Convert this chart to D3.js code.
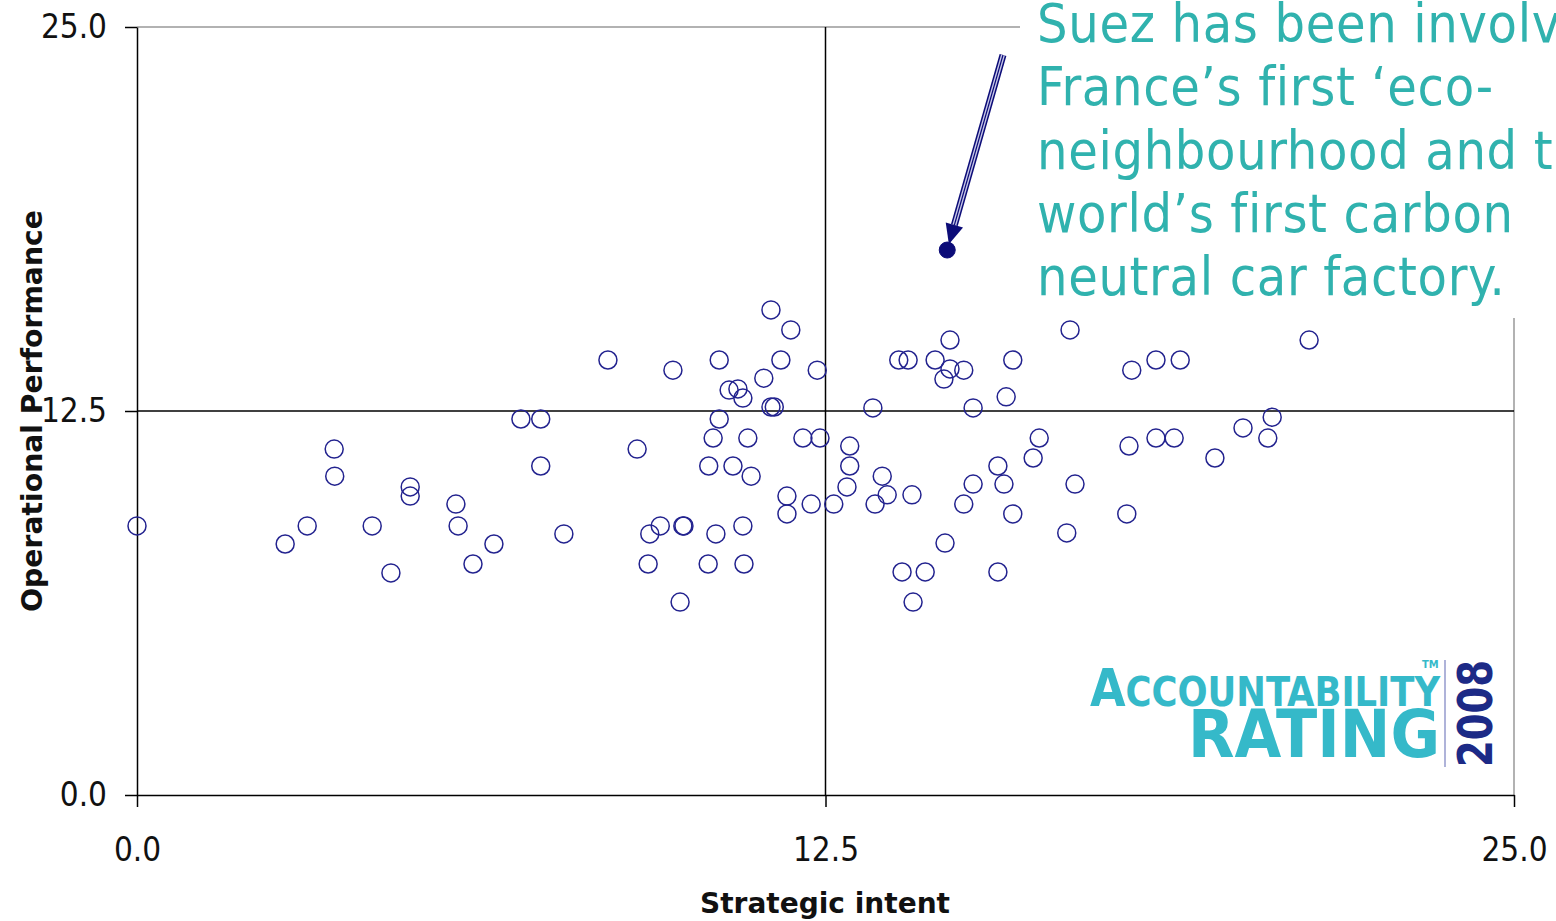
<!DOCTYPE html>
<meta charset="utf-8">
<script src="https://d3js.org/d3.v7.min.js"></script>
<style>
  body { margin: 0; background: #fff; }
  text { font-family: "DejaVu Sans Condensed", "DejaVu Sans", sans-serif; }
</style>
<div id="chart"></div>
<script>

// data
var strategic = [0.00, 2.69, 3.09, 3.58, 3.59, 4.27, 4.61, 4.96, 4.96, 5.79,
  5.83, 6.10, 6.48, 6.97, 7.33, 7.33, 7.75, 8.55, 9.08, 9.28,
  9.31, 9.50, 9.73, 9.86, 9.91, 9.93, 10.37, 10.38, 10.46, 10.51,
  10.57, 10.57, 10.75, 10.82, 10.91, 11.00, 11.00, 11.02, 11.09, 11.15,
  11.38, 11.51, 11.51, 11.57, 11.69, 11.80, 11.80, 11.87, 12.09, 12.24,
  12.35, 12.40, 12.65, 12.89, 12.94, 12.94, 13.36, 13.40, 13.53, 13.62,
  13.83, 13.89, 14.00, 14.07, 14.09, 14.31, 14.49, 14.65, 14.67, 14.76,
  14.76, 15.01, 15.01, 15.18, 15.18, 15.63, 15.63, 15.74, 15.78, 15.90,
  15.90, 16.27, 16.38, 16.88, 16.94, 17.03, 17.97, 18.01, 18.06, 18.50,
  18.50, 18.83, 18.94, 19.57, 20.08, 20.53, 20.61, 21.28];
var operational = [8.76, 8.17, 8.76, 11.26, 10.38, 8.76, 7.23, 10.03, 9.73, 9.47,
  8.76, 7.52, 8.17, 12.24, 12.24, 10.71, 8.50, 14.16, 11.26, 7.52,
  8.50, 8.76, 13.83, 6.28, 8.76, 8.76, 7.52, 10.71, 11.62, 8.50,
  14.16, 12.24, 13.18, 10.71, 13.22, 12.92, 8.76, 7.52, 11.62, 10.38,
  13.57, 15.79, 12.63, 12.63, 14.16, 9.73, 9.15, 15.14, 11.62, 9.47,
  13.83, 11.62, 9.47, 10.03, 11.36, 10.71, 12.60, 9.47, 10.38, 9.77,
  14.16, 7.26, 14.16, 9.77, 6.28, 7.26, 14.16, 13.54, 8.20, 14.81,
  13.87, 13.83, 9.47, 12.60, 10.12, 10.71, 7.26, 10.12, 12.96, 14.16,
  9.15, 10.97, 11.62, 8.53, 15.14, 10.12, 9.15, 11.36, 13.83, 14.16,
  11.62, 11.62, 14.16, 10.97, 11.95, 11.62, 12.30, 14.81];
var suez = {strategic: 14.71, operational: 17.74};
var tickValues = [0, 12.5, 25];
var noteLines = ["Suez has been involved in", "France\u2019s first \u2018eco-",
  "neighbourhood and the", "world\u2019s first carbon", "neutral car factory."];

var points = strategic.map(function(d, i) { return {x: d, y: operational[i]}; });

var W = 1556, H = 921;
var margin = {top: 27, right: 42, bottom: 126, left: 137},
    width = W - margin.left - margin.right,
    height = H - margin.top - margin.bottom;

var svg = d3.select("#chart").append("svg")
    .attr("width", W).attr("height", H);
var g = svg.append("g")
    .attr("transform", "translate(" + margin.left + "," + margin.top + ")");

var x = d3.scaleLinear().domain([0, 25]).range([0, width]);
var y = d3.scaleLinear().domain([0, 25]).range([height, 0]);

// gray plot frame (top, right)
g.append("path")
  .attr("d", "M0,0H" + width + "V" + height)
  .attr("fill", "none").attr("stroke", "#999").attr("stroke-width", 1.5);

// quadrant lines
g.append("line")
  .attr("x1", x(12.5)).attr("x2", x(12.5)).attr("y1", 0).attr("y2", height)
  .attr("stroke", "#000").attr("stroke-width", 1.5);
g.append("line")
  .attr("x1", 0).attr("x2", width).attr("y1", y(12.5)).attr("y2", y(12.5))
  .attr("stroke", "#000").attr("stroke-width", 1.5);

// axes
var yAxis = g.append("g")
  .call(d3.axisLeft(y).tickValues(tickValues).tickFormat(d3.format(".1f"))
    .tickSize(12).tickSizeOuter(0).tickPadding(18));
var xAxis = g.append("g")
  .attr("transform", "translate(0," + height + ")")
  .call(d3.axisBottom(x).tickValues(tickValues).tickFormat(d3.format(".1f"))
    .tickSize(12).tickSizeOuter(0).tickPadding(31));
[yAxis, xAxis].forEach(function(a) {
  a.select(".domain").attr("stroke", "#000").attr("stroke-width", 1.5);
  a.selectAll(".tick line").attr("stroke", "#000").attr("stroke-width", 1.5);
  a.selectAll("text").attr("font-size", 33).attr("fill", "#111")
    .style("font-family", "DejaVu Sans Condensed");
});

// axis titles
svg.append("text")
  .attr("x", 825).attr("y", 913)
  .attr("text-anchor", "middle")
  .attr("font-size", 29).attr("font-weight", "bold").attr("fill", "#111")
  .attr("textLength", 250).attr("lengthAdjust", "spacingAndGlyphs")
  .text("Strategic intent");
svg.append("text")
  .attr("transform", "translate(42,411) rotate(-90)")
  .attr("text-anchor", "middle")
  .attr("font-size", 29).attr("font-weight", "bold").attr("fill", "#111")
  .attr("textLength", 402).attr("lengthAdjust", "spacingAndGlyphs")
  .text("Operational Performance");

// points
g.selectAll(".pt")
  .data(points)
  .enter().append("circle")
    .attr("class", "pt")
    .attr("cx", function(d) { return x(d.x); })
    .attr("cy", function(d) { return y(d.y); })
    .attr("r", 9)
    .attr("fill", "none")
    .attr("stroke", "#23238f")
    .attr("stroke-width", 1.5);

// highlighted company
g.append("circle")
  .attr("cx", x(suez.strategic)).attr("cy", y(suez.operational))
  .attr("r", 8).attr("fill", "#0c0c78").attr("stroke", "#0c0c78");

// arrow
var ax = x(suez.strategic) + margin.left, ay = y(suez.operational) + margin.top;
var sx = 1003, sy = 55;
var ang = Math.atan2(ay - sy, ax - sx);
var hx = ax - Math.cos(ang) * 6, hy = ay - Math.sin(ang) * 6;
var bx = ax - Math.cos(ang) * 26, by = ay - Math.sin(ang) * 26;
svg.append("line").attr("x1", sx).attr("y1", sy).attr("x2", bx).attr("y2", by)
  .attr("stroke", "#0c0c78").attr("stroke-width", 7);
svg.append("line").attr("x1", sx).attr("y1", sy).attr("x2", bx).attr("y2", by)
  .attr("stroke", "#c8c8e8").attr("stroke-width", 4);
svg.append("line").attr("x1", sx).attr("y1", sy).attr("x2", bx).attr("y2", by)
  .attr("stroke", "#0c0c78").attr("stroke-width", 1.2);
var px = -Math.sin(ang), py = Math.cos(ang);
svg.append("path")
  .attr("d", "M" + hx + "," + hy +
    "L" + (bx + px * 9) + "," + (by + py * 9) +
    "L" + (bx - px * 9) + "," + (by - py * 9) + "Z")
  .attr("fill", "#0c0c78");

// annotation box
svg.append("rect")
  .attr("x", 1020).attr("y", 0).attr("width", W - 1020).attr("height", 318)
  .attr("fill", "#fff");
svg.append("text")
  .attr("font-size", 53.5).attr("fill", "#30b2ae")
  .attr("letter-spacing", 0.65)
  .selectAll("tspan")
  .data(noteLines)
  .enter().append("tspan")
    .attr("x", 1037)
    .attr("y", function(d, i) { return 42 + i * 63.3; })
    .text(function(d) { return d; });

// logo
var logo = svg.append("g");
logo.append("text")
  .attr("x", 1090).attr("y", 706)
  .attr("font-size", 52).attr("font-weight", "bold").attr("fill", "#35b9c9")
  .attr("textLength", 350).attr("lengthAdjust", "spacingAndGlyphs")
  .html('A<tspan font-size="40">CCOUNTABILITY</tspan>');
logo.append("text")
  .attr("x", 1188).attr("y", 757)
  .attr("font-size", 66).attr("font-weight", "bold").attr("fill", "#35b9c9")
  .attr("textLength", 252).attr("lengthAdjust", "spacingAndGlyphs")
  .text("RATING");
logo.append("text")
  .attr("x", 1422).attr("y", 668)
  .attr("font-size", 11).attr("font-weight", "bold").attr("fill", "#35b9c9")
  .text("TM");
logo.append("line")
  .attr("x1", 1445).attr("x2", 1445).attr("y1", 660).attr("y2", 767)
  .attr("stroke", "#7a80c0").attr("stroke-width", 1.2);
logo.append("text")
  .attr("transform", "translate(1492,767) rotate(-90)")
  .attr("font-size", 48).attr("font-weight", "bold").attr("fill", "#1c2a86")
  .attr("textLength", 107).attr("lengthAdjust", "spacingAndGlyphs")
  .text("2008");

</script>
